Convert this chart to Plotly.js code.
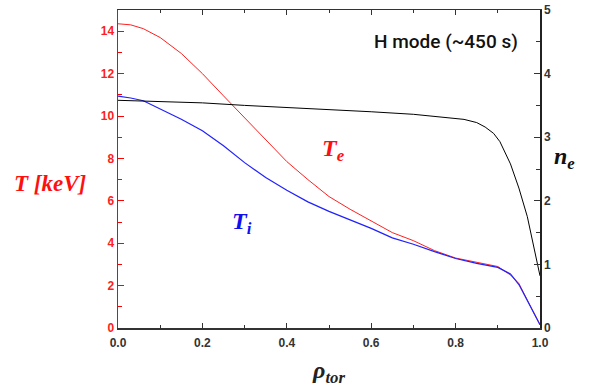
<!DOCTYPE html>
<html>
<head>
<meta charset="utf-8">
<script src="https://cdn.plot.ly/plotly-3.0.1.min.js"></script>
<style>html,body{margin:0;padding:0;background:#fff;}#chart{width:608px;height:390px;}</style>
</head>
<body>
<div id="chart"></div>
<script>
// rho_tor grid for temperature profiles
var rhoT = [0, 0.03, 0.06, 0.1, 0.15, 0.2, 0.25, 0.3, 0.35, 0.4, 0.45, 0.5, 0.55, 0.6, 0.65, 0.7, 0.75, 0.8, 0.85, 0.9, 0.93, 0.95, 1.0];
// electron temperature Te [keV]
var Te = [14.35, 14.3, 14.12, 13.7, 12.95, 12.0, 10.95, 9.92, 8.9, 7.85, 7.0, 6.2, 5.6, 5.05, 4.5, 4.12, 3.65, 3.3, 3.1, 2.9, 2.5, 2.1, 0.15];
// ion temperature Ti [keV]
var Ti = [10.94, 10.85, 10.72, 10.35, 9.85, 9.3, 8.6, 7.8, 7.1, 6.5, 5.95, 5.5, 5.1, 4.7, 4.25, 3.95, 3.6, 3.28, 3.05, 2.86, 2.55, 2.05, 0.15];
// rho_tor grid for density profile
var rhoN = [0, 0.1, 0.2, 0.3, 0.4, 0.5, 0.6, 0.7, 0.76, 0.82, 0.85, 0.87, 0.89, 0.905, 0.93, 0.95, 0.97, 0.99, 1.0];
// electron density ne
var ne = [3.58, 3.56, 3.54, 3.5, 3.47, 3.43, 3.4, 3.36, 3.32, 3.28, 3.23, 3.16, 3.06, 2.93, 2.58, 2.2, 1.75, 1.15, 0.82];

var traces = [
  {x: rhoN, y: ne, yaxis: 'y2', mode: 'lines', line: {color: '#000000', width: 1}, hoverinfo: 'skip'},
  {x: rhoT, y: Te, mode: 'lines', line: {color: '#ff2020', width: 1}, hoverinfo: 'skip'},
  {x: rhoT, y: Ti, mode: 'lines', line: {color: '#2020ff', width: 1.2}, hoverinfo: 'skip'}
];

var serif = 'Liberation Serif, DejaVu Serif, serif';
var layout = {
  width: 608, height: 390,
  margin: {l: 118, r: 68, t: 10, b: 62},
  paper_bgcolor: '#fff', plot_bgcolor: '#fff',
  showlegend: false,
  xaxis: {
    range: [0, 1], dtick: 0.2, tick0: 0, tickformat: '.1f',
    ticks: 'inside', ticklen: 5, tickwidth: 1, tickcolor: '#333',
    minor: {dtick: 0.1, ticks: 'inside', ticklen: 3, tickcolor: '#333'},
    showline: true, linecolor: '#333', linewidth: 1.5, mirror: 'ticks',
    showgrid: false, zeroline: false, ticklabelstandoff: 3,
    tickfont: {family: 'Liberation Sans, Arial, sans-serif', size: 12, color: '#333', weight: 'bold'},
    title: {text: '<b><i>ρ<sub>tor</sub></i></b>', font: {family: serif, size: 24, color: '#222'}, standoff: 12}
  },
  yaxis: {
    range: [0, 15], dtick: 2, tick0: 0,
    ticks: 'inside', ticklen: 6, tickwidth: 1, tickcolor: '#ff0000',
    minor: {dtick: 1, ticks: 'inside', ticklen: 4, tickcolor: '#ff0000'},
    showline: true, linecolor: '#ff0000', linewidth: 1.5,
    showgrid: false, zeroline: false,
    tickfont: {family: 'Liberation Sans, Arial, sans-serif', size: 12, color: '#ff2020', weight: 'bold'}
  },
  yaxis2: {
    range: [0, 5], dtick: 1, tick0: 0, overlaying: 'y', side: 'right',
    ticks: 'inside', ticklen: 6, tickwidth: 1, tickcolor: '#333',
    minor: {dtick: 0.5, ticks: 'inside', ticklen: 4, tickcolor: '#333'},
    showline: true, linecolor: '#222', linewidth: 1.5,
    showgrid: false, zeroline: false,
    tickfont: {family: 'Liberation Sans, Arial, sans-serif', size: 12, color: '#333', weight: 'bold'}
  },
  annotations: [
    {xref: 'paper', yref: 'paper', x: 0.777, y: 0.9, xanchor: 'center', yanchor: 'middle', showarrow: false,
     text: 'H mode (~450 s)', font: {family: 'Roboto, sans-serif', size: 19, color: '#111', weight: 500}},
    {xref: 'x', yref: 'y', x: 0.51, y: 8.4, xanchor: 'center', yanchor: 'middle', showarrow: false,
     text: '<b><i>T<sub>e</sub></i></b>', font: {family: serif, size: 24, color: '#ff1010'}},
    {xref: 'x', yref: 'y', x: 0.295, y: 4.95, xanchor: 'center', yanchor: 'middle', showarrow: false,
     text: '<b><i>T<sub>i</sub></i></b>', font: {family: serif, size: 24, color: '#1010ee'}},
    {xref: 'paper', yref: 'paper', x: -0.159, y: 0.455, xanchor: 'center', yanchor: 'middle', showarrow: false,
     text: '<b><i>T [keV]</i></b>', font: {family: serif, size: 23, color: '#ff1010'}},
    {xref: 'paper', yref: 'paper', x: 1.059, y: 0.535, xanchor: 'center', yanchor: 'middle', showarrow: false,
     text: '<b><i>n<sub>e</sub></i></b>', font: {family: serif, size: 24, color: '#111'}}
  ]
};

Plotly.newPlot('chart', traces, layout, {displayModeBar: false, staticPlot: true});
</script>
</body>
</html>
